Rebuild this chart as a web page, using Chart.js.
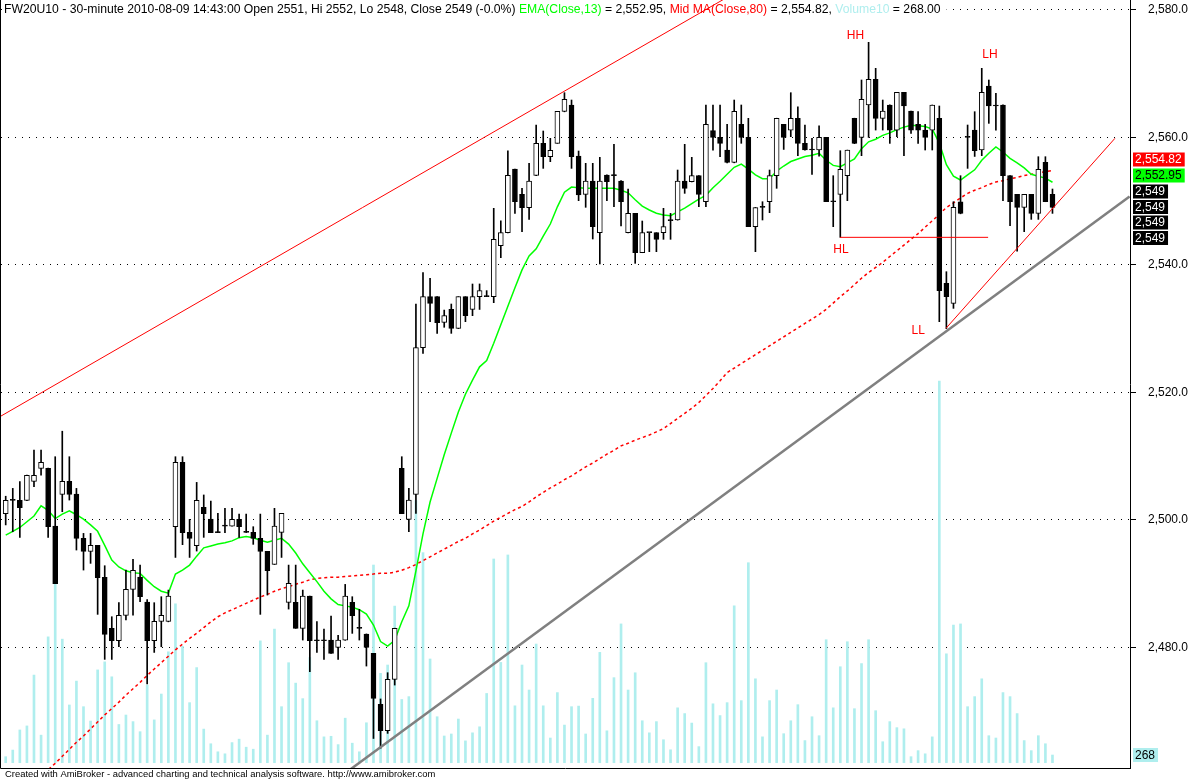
<!DOCTYPE html>
<html><head><meta charset="utf-8">
<script src="https://cdn.jsdelivr.net/npm/chart.js@4.4.0/dist/chart.umd.min.js"></script>
<style>html,body{margin:0;padding:0;background:#fff;}canvas{display:block}</style>
</head><body>
<canvas id="c" width="1192" height="780"></canvas>
<script>
const symbol = 'FW20U10';
const period = '30-minute';
const lastStamp = '2010-08-09 14:43:00';
const priceTicks = [2480, 2500, 2520, 2540, 2560, 2580];

const opens = [2500.96,2503.05,2503.05,2503.05,2506.03,2508.07,2508.07,2499.02,2503.99,2506.03,
2504.04,2497.09,2495.05,2495.99,2490.97,2482.97,2481.03,2485.01,2489.09,2491.02,
2487.1,2481.03,2484.07,2484.07,2498.92,2509.01,2498.03,2495.94,2501.95,2500.12,
2497.98,2499.02,2499.02,2500.07,2498.03,2498.03,2497.09,2495.05,2493.01,2498.03,
2487.05,2487.05,2482.97,2488.04,2481.03,2481.03,2481.14,2479.99,2481.14,2487.05,
2482.97,2482.08,2479.05,2471.05,2466.92,2474.97,2508.07,2500.07,2504.0,2527.0,
2535.0,2535.0,2530.98,2533.02,2530.04,2535.0,2533.02,2535.0,2535.0,2535.0,
2543.0,2545.04,2555.03,2551.06,2548.96,2554.03,2559.06,2556.96,2559.06,2564.07,
2565.07,2557.07,2551.06,2553.15,2545.04,2554.09,2553.98,2553.15,2545.04,2548.07,
2541.9,2545.04,2545.04,2545.04,2546.92,2547.03,2553.15,2553.04,2553.98,2549.9,
2561.04,2559.99,2558.0,2556.08,2562.03,2559.99,2545.98,2549.01,2549.9,2553.98,
2562.03,2561.14,2562.97,2559.05,2558.01,2558.01,2559.99,2549.9,2551.05,2553.98,
2562.97,2559.99,2565.07,2569.09,2562.97,2565.07,2561.14,2567.05,2564.12,2562.03,
2561.14,2561.14,2562.97,2537.09,2533.95,2549.9,2559.99,2561.14,2558.01,2568.05,
2564.91,2565.07,2553.98,2551.05,2549.01,2551.05,2548.07,2556.07,2551.05];

const highs = [2503.7,2504.93,2505.98,2507.0,2510.94,2510.94,2508.1,2509.9,2513.9,2509.9,
2504.93,2497.87,2497.87,2496.0,2492.8,2484.8,2487.0,2492.12,2493.8,2492.9,
2487.5,2487.0,2487.94,2488.98,2509.9,2509.9,2500.07,2505.87,2503.9,2502.94,
2501.0,2501.8,2501.8,2500.9,2500.9,2498.92,2500.9,2495.05,2501.8,2501.01,
2492.9,2492.9,2488.98,2488.04,2484.02,2482.87,2484.9,2481.9,2489.87,2487.94,
2485.95,2482.1,2479.05,2471.9,2476.02,2483.0,2509.9,2504.93,2533.85,2538.8,
2537.88,2535.0,2532.9,2533.85,2535.0,2535.0,2536.99,2537.0,2535.95,2548.86,
2546.9,2557.9,2555.03,2552.0,2555.92,2561.93,2560.99,2559.84,2564.07,2567.0,
2565.85,2557.85,2555.92,2555.92,2556.86,2554.1,2558.9,2553.2,2551.9,2548.07,
2546.87,2545.04,2545.04,2548.86,2548.07,2554.87,2558.9,2556.86,2554.0,2565.07,
2565.07,2565.07,2562.03,2565.85,2565.07,2562.98,2549.0,2549.9,2554.87,2563.0,
2562.03,2567.0,2564.8,2561.93,2559.84,2561.82,2560.0,2553.98,2557.9,2558.0,
2563.0,2568.99,2574.9,2570.82,2565.85,2565.1,2567.05,2567.05,2564.12,2564.02,
2562.03,2565.07,2564.91,2538.92,2549.9,2553.98,2561.93,2564.02,2570.82,2568.99,
2566.9,2565.1,2554.0,2551.05,2551.05,2551.05,2556.96,2556.96,2551.89];

const lows = [2499.2,2498.13,2497.25,2503.0,2505.2,2507.02,2497.25,2489.98,2501.27,2503.1,
2495.26,2492.12,2493.17,2485.17,2478.11,2478.1,2480.09,2484.28,2485.06,2487.15,
2474.24,2479.2,2480.09,2484.0,2494.1,2496.1,2494.1,2495.1,2497.25,2497.98,
2497.98,2497.98,2499.0,2497.25,2498.0,2496.15,2485.17,2488.2,2493.0,2494.1,
2486.0,2482.97,2481.14,2476.17,2479.2,2478.11,2479.05,2478.11,2481.1,2482.19,
2481.14,2477.06,2465.7,2464.15,2466.5,2474.08,2500.96,2498.13,2501.0,2526.1,
2531.08,2529.25,2530.2,2529.25,2530.0,2531.08,2532.02,2533.0,2535.0,2534.06,
2541.12,2545.0,2548.07,2545.2,2547.13,2554.0,2555.13,2556.18,2559.06,2564.0,
2555.13,2550.06,2549.02,2544.05,2540.13,2550.06,2549.12,2546.09,2545.0,2540.23,
2541.9,2542.06,2542.06,2544.0,2544.0,2547.0,2551.21,2553.0,2549.12,2549.12,
2558.0,2556.96,2556.0,2556.0,2559.06,2545.98,2542.06,2547.03,2548.18,2552.0,
2558.1,2560.1,2557.12,2558.0,2554.19,2557.06,2549.9,2545.98,2544.31,2550.06,
2559.0,2557.12,2559.99,2561.14,2561.14,2559.05,2560.1,2557.12,2560.6,2559.05,
2558.01,2558.01,2531.08,2530.0,2533.17,2548.0,2555.13,2557.0,2557.12,2562.19,
2561.14,2550.06,2546.14,2542.16,2545.2,2547.13,2547.13,2549.9,2548.07];

const closes = [2503.05,2503.05,2501.9,2506.97,2506.97,2509.01,2498.92,2489.98,2506.03,2503.99,
2497.09,2495.05,2495.99,2490.92,2482.03,2481.03,2485.01,2489.09,2492.07,2487.94,
2481.03,2484.07,2485.01,2488.04,2509.01,2497.98,2497.09,2503.05,2500.96,2497.98,
2497.98,2499.02,2500.07,2498.92,2498.03,2497.09,2495.05,2492.02,2499.02,2501.01,
2490.03,2482.97,2488.04,2481.03,2481.03,2481.03,2479.05,2481.14,2488.04,2484.96,
2482.97,2479.99,2471.99,2466.92,2474.97,2482.97,2500.96,2503.1,2527.0,2535.0,
2533.96,2530.92,2532.02,2530.04,2535.0,2532.02,2535.0,2535.95,2535.0,2544.0,
2545.04,2554.03,2549.9,2548.96,2553.15,2559.06,2556.96,2557.96,2564.07,2565.96,
2556.96,2550.95,2553.15,2545.98,2553.15,2553.04,2553.98,2549.9,2548.07,2541.9,
2545.04,2545.04,2544.0,2545.98,2546.92,2553.15,2552.0,2553.98,2551.06,2562.03,
2559.99,2559.06,2556.08,2564.07,2559.99,2545.98,2548.96,2549.01,2553.98,2562.97,
2559.99,2562.97,2559.05,2558.01,2558.01,2559.99,2549.9,2549.9,2554.97,2558.01,
2559.05,2565.95,2569.09,2562.97,2564.12,2561.14,2567.05,2564.91,2561.14,2561.14,
2559.99,2565.07,2535.94,2535.0,2549.01,2548.07,2559.99,2557.9,2567.05,2564.91,
2564.91,2553.98,2549.9,2549.01,2551.05,2548.07,2554.97,2549.9,2549.01];

const ema13 = [2497.6,2498.2,2498.8,2499.7,2500.6,2502.2,2501.5,2500.2,2500.9,2501.4,
2500.8,2500.1,2499.2,2498.2,2496.0,2493.7,2492.6,2492.0,2491.7,2491.6,
2490.5,2489.5,2488.8,2488.5,2491.5,2492.1,2492.9,2494.3,2495.6,2495.9,
2496.2,2496.4,2496.7,2497.2,2497.4,2497.2,2496.8,2496.5,2496.8,2497.1,
2496.2,2494.8,2493.1,2491.7,2490.3,2488.8,2487.6,2486.7,2486.5,2486.3,
2485.9,2485.2,2483.5,2480.9,2480.2,2481.1,2484.0,2486.5,2492.0,2497.8,
2502.8,2506.5,2510.2,2513.6,2516.9,2519.7,2521.9,2524.0,2525.0,2527.7,
2530.6,2533.5,2536.4,2539.2,2541.4,2542.5,2544.5,2546.4,2549.1,2551.4,
2552.2,2552.1,2552.0,2552.0,2552.0,2552.0,2552.0,2551.7,2551.3,2550.2,
2549.2,2548.6,2548.1,2547.8,2547.7,2548.3,2548.9,2549.6,2550.3,2550.9,
2552.1,2553.1,2554.2,2555.3,2555.8,2555.0,2554.1,2553.5,2553.5,2554.7,
2555.5,2556.2,2556.6,2557.0,2557.2,2557.5,2556.4,2555.6,2555.4,2556.0,
2556.6,2558.2,2559.3,2559.7,2560.3,2560.7,2561.2,2561.6,2561.9,2561.8,
2561.7,2561.3,2559.1,2555.7,2553.9,2553.3,2554.1,2554.9,2556.4,2557.5,
2558.5,2557.7,2556.7,2556.0,2555.2,2554.2,2553.9,2553.6,2552.95];

const ma80 = [2454.3,2455.4,2456.4,2457.5,2458.6,2459.7,2460.8,2461.8,2462.9,2464.0,
2465.1,2466.1,2467.2,2468.3,2469.4,2470.4,2471.4,2472.5,2473.5,2474.5,
2475.6,2476.6,2477.6,2478.6,2479.6,2480.5,2481.4,2482.2,2483.1,2484.0,
2484.8,2485.4,2485.9,2486.4,2486.9,2487.4,2487.9,2488.3,2488.8,2489.2,
2489.5,2489.9,2490.2,2490.6,2490.8,2490.9,2491.0,2491.0,2491.1,2491.2,
2491.3,2491.4,2491.5,2491.6,2491.6,2491.8,2492.1,2492.5,2493.0,2493.6,
2494.2,2494.8,2495.4,2496.0,2496.6,2497.1,2497.8,2498.4,2499.1,2499.8,
2500.4,2501.0,2501.6,2502.1,2502.8,2503.6,2504.3,2505.0,2505.6,2506.3,
2506.9,2507.6,2508.3,2508.9,2509.6,2510.3,2510.9,2511.6,2512.0,2512.5,
2512.9,2513.3,2513.8,2514.3,2515.1,2515.9,2516.7,2517.5,2518.4,2519.5,
2520.6,2521.8,2523.1,2523.8,2524.5,2525.2,2525.9,2526.6,2527.3,2528.0,
2528.7,2529.4,2530.1,2530.8,2531.5,2532.2,2533.0,2534.0,2535.0,2535.9,
2536.9,2537.9,2538.8,2539.6,2540.4,2541.3,2542.2,2543.1,2544.0,2544.9,
2545.9,2546.9,2547.9,2549.0,2549.7,2550.5,2551.2,2551.7,2552.1,2552.6,
2553.0,2553.2,2553.5,2553.7,2554.0,2554.2,2554.4,2554.6,2554.82];

const volumes = [210,440,1140,1280,3050,960,4380,6240,4300,2010,
2840,1950,1450,3230,3510,2990,1330,1660,1430,1080,
2700,1490,2390,3860,5530,4050,2090,3310,1170,660,
380,310,700,820,540,470,4240,960,4650,1950,
3480,2770,2230,3660,1460,900,920,630,1550,680,
380,1390,6880,3110,3400,5450,2200,2300,9120,7310,
3610,1600,930,1000,1520,760,1040,1250,2410,7090,
3490,7230,1980,3400,2530,4130,1980,860,2440,1310,
1950,1970,1000,2240,3840,1110,2960,4830,2530,3130,
1460,1040,1430,800,450,1910,1710,1380,560,3480,
2050,1640,2090,5460,2160,6960,2920,900,2160,2530,
1010,1460,2020,770,1600,940,4280,1910,3340,4210,
1880,3450,4280,1810,730,1430,1220,1180,210,420,
310,900,13280,3790,4790,4830,1950,2300,2920,940,
860,2440,2300,1710,770,420,940,660,268];

// hand-drawn study lines (bar index, price)
const upperChannel = [{x:-0.665, y:2516.28}, {x:110, y:2587.08}];
const supportLine  = [{x:45, y:2457.81}, {x:158.9, y:2550.71}];
const risingLine   = [{x:132.94, y:2530.04}, {x:156.83, y:2559.84}];
const hlLine       = [{x:117.95, y:2544.31}, {x:138.9, y:2544.31}];
const labelsHL = [
  {t:'HH', x:120.15, y:2575.9},
  {t:'LH', x:139.17, y:2572.96},
  {t:'HL', x:118.1,  y:2542.32},
  {t:'LL', x:129.02, y:2529.62}
];

const N = closes.length;
const idx = closes.map((_, i) => i);
const FONT = '"Liberation Sans", Arial, sans-serif';
const fmt = (v, d) => v.toLocaleString('en-US', {minimumFractionDigits: d, maximumFractionDigits: d});

const isDoji = i => Math.abs(closes[i] - opens[i]) < 0.3;
const bodyColors = idx.map(i => (isDoji(i) || closes[i] < opens[i]) ? '#000000' : '#ffffff');

const last = N - 1;
const pct = ((closes[last] - closes[last - 1]) / closes[last - 1] * 100).toFixed(1);
const headerParts = [
  [`${symbol} - ${period} ${lastStamp} Open ${Math.round(opens[last])}, Hi ${Math.round(highs[last])}, Lo ${Math.round(lows[last])}, Close ${Math.round(closes[last])} (${pct}%) `, '#000000'],
  ['EMA(Close,13)', '#00ff00'],
  [` = ${fmt(ema13[last], 2)}, `, '#000000'],
  ['Mid MA(Close,80)', '#ff0000'],
  [` = ${fmt(ma80[last], 2)}, `, '#000000'],
  ['Volume10', '#afeeee'],
  [` = ${volumes[last].toFixed(2)}`, '#000000']
];

const headerPlugin = {
  id: 'hdr',
  beforeDatasetsDraw(chart) {
    const ctx = chart.ctx;
    ctx.save();
    ctx.font = '12.2px ' + FONT;
    ctx.textBaseline = 'alphabetic';
    let total = 0;
    headerParts.forEach(p => total += ctx.measureText(p[0]).width);
    ctx.fillStyle = '#ffffff';
    ctx.fillRect(2, 1, total + 8, 16);
    let x = 4;
    headerParts.forEach(p => { ctx.fillStyle = p[1]; ctx.fillText(p[0], x, 13); x += ctx.measureText(p[0]).width; });
    ctx.restore();
  },
  afterDraw(chart) {
    const ctx = chart.ctx, a = chart.chartArea, ys = chart.scales.y, xs = chart.scales.x;
    ctx.save();
    ctx.strokeStyle = '#000'; ctx.lineWidth = 1;
    ctx.beginPath();
    ctx.moveTo(0.5, 0); ctx.lineTo(0.5, a.bottom + 0.5);
    ctx.lineTo(a.right + 0.5, a.bottom + 0.5);
    ctx.stroke();
    ctx.font = '12px ' + FONT;
    ctx.fillStyle = '#ff0000';
    ctx.textAlign = 'center'; ctx.textBaseline = 'middle';
    labelsHL.forEach(l => ctx.fillText(l.t, xs.getPixelForValue(l.x), ys.getPixelForValue(l.y)));
    ctx.textAlign = 'left'; ctx.textBaseline = 'middle';
    const bx = a.right + 3;
    const boxes = [
      {t: fmt(ma80[last], 2), bg: '#ff0000', fg: '#ffffff', yc: 159.5},
      {t: fmt(ema13[last], 2), bg: '#00ff00', fg: '#000000', yc: 175.5},
      {t: fmt(Math.round(closes[last]), 0), bg: '#000000', fg: '#ffffff', yc: 191.5},
      {t: fmt(Math.round(closes[last]), 0), bg: '#000000', fg: '#ffffff', yc: 207},
      {t: fmt(Math.round(closes[last]), 0), bg: '#000000', fg: '#ffffff', yc: 222.5},
      {t: fmt(Math.round(closes[last]), 0), bg: '#000000', fg: '#ffffff', yc: 238},
      {t: String(volumes[last]), bg: '#afeeee', fg: '#000000', yc: 755}
    ];
    boxes.forEach(b => {
      const w = ctx.measureText(b.t).width + 5;
      ctx.fillStyle = b.bg; ctx.fillRect(bx, b.yc - 7, w, 14);
      ctx.fillStyle = b.fg; ctx.fillText(b.t, bx + 2, b.yc + 0.5);
    });
    ctx.fillStyle = '#000';
    ctx.textBaseline = 'alphabetic';
    const credit = 'Created with AmiBroker - advanced charting and technical analysis software. http://www.amibroker.com';
    ctx.font = '11px ' + FONT;
    const w11 = ctx.measureText(credit).width;
    const fs = 11 * 431 / w11;
    ctx.font = fs.toFixed(2) + 'px ' + FONT;
    ctx.fillText(credit, 5, 777);
    ctx.restore();
  }
};

const pts = arr => arr.map((v, i) => ({x: i, y: v}));

new Chart(document.getElementById('c'), {
  type: 'bar',
  data: {
    datasets: [
      {type:'line', label:'upper', data: upperChannel, borderColor:'#ff0000', borderWidth:1, pointRadius:0, order:0, yAxisID:'y'},
      {type:'line', label:'support', data: supportLine, borderColor:'#808080', borderWidth:2.5, pointRadius:0, order:0, yAxisID:'y'},
      {type:'line', label:'rising', data: risingLine, borderColor:'#ff0000', borderWidth:1, pointRadius:0, order:0, yAxisID:'y'},
      {type:'line', label:'hl', data: hlLine, borderColor:'#ff0000', borderWidth:1, pointRadius:0, order:0, yAxisID:'y'},
      {label:'body', data: idx.map(i => ({x:i, y:[opens[i], closes[i]]})), backgroundColor: bodyColors,
        borderColor:'#000000', borderWidth:1, borderSkipped:false, barThickness:5, minBarLength:1, grouped:false, order:1, yAxisID:'y'},
      {label:'wick', data: idx.map(i => ({x:i, y:[lows[i], highs[i]]})), backgroundColor:'#000000',
        borderWidth:0, barThickness:1, grouped:false, order:2, yAxisID:'y'},
      {type:'line', label:'ema', data: pts(ema13), borderColor:'#00ff00', borderWidth:1.5, pointRadius:0, order:3, yAxisID:'y'},
      {type:'line', label:'ma', data: pts(ma80), borderColor:'#ff0000', borderWidth:1.5, borderDash:[3,3], pointRadius:0, order:4, yAxisID:'y'},
      {label:'vol', data: pts(volumes), backgroundColor:'#afeeee', borderWidth:0, barThickness:2, grouped:false, order:5, yAxisID:'yv'}
    ]
  },
  options: {
    responsive: false,
    devicePixelRatio: 1,
    animation: false,
    events: [],
    layout: {padding: {left: 1, top: 0, right: 0, bottom: 12}},
    plugins: {legend: {display:false}, tooltip: {enabled:false}},
    scales: {
      x: {type:'linear', display:false, min:-0.6645, max:158.96, offset:false},
      yv: {type:'linear', display:false, min:-184, max:26542},
      y: {
        type:'linear', position:'right', min:2461.07, max:2581.54,
        afterBuildTicks: s => { s.ticks = priceTicks.map(v => ({value:v})); },
        afterFit: s => { s.width = 62; s.paddingTop = 0; s.paddingBottom = 0; },
        ticks: {color:'#000', font:{family:FONT, size:12}, padding:12, callback: v => fmt(v, 1)},
        grid: {color:'#000', lineWidth:1, tickLength:6, tickColor:'#000', tickBorderDash:[], tickWidth:1},
        border: {display:true, color:'#000', width:1, dash:[1,6]}
      }
    }
  },
  plugins: [headerPlugin]
});
</script>
</body></html>
